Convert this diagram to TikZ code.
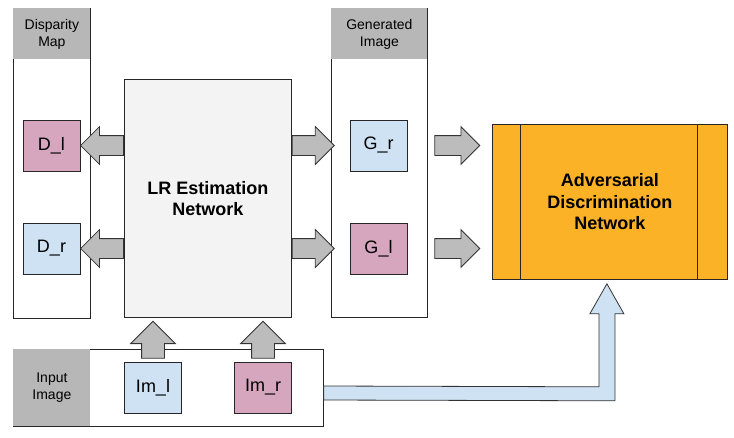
\documentclass[tikz,border=0pt]{standalone}
\usepackage{fontspec}
\setmainfont{Liberation Sans}
\usetikzlibrary{shapes.arrows,positioning,calc}
\definecolor{pinkbox}{HTML}{D5A6BD}
\definecolor{bluebox}{HTML}{CFE2F3}
\definecolor{hdrgray}{HTML}{B7B7B7}
\definecolor{lrgray}{HTML}{F3F3F3}
\definecolor{advorange}{HTML}{FBB226}
\definecolor{arrgray}{HTML}{BCBCBC}

\begin{document}
\begin{tikzpicture}[x=1pt,y=-1pt,line width=0.8pt,
col/.style={draw=black!85,fill=white,anchor=north west,inner sep=0},
hdr/.style={fill=hdrgray,anchor=north west,inner sep=0,minimum height=51pt,align=center,font=\fontsize{14}{17}\selectfont},
sq/.style={draw=black!85,minimum width=57pt,minimum height=51pt,inner sep=0,font=\fontsize{18}{21}\selectfont},
big/.style={align=center,font=\bfseries\fontsize{18}{21.5}\selectfont},
blk/.style={single arrow,draw=black!80,fill=arrgray,anchor=tail,inner xsep=0,inner ysep=9.5pt,single arrow head extend=9pt},
upblk/.style={blk,inner xsep=11pt,inner ysep=0,single arrow head extend=11pt,minimum height=37pt,shape border rotate=90},
bluearr/.style={draw=black!80,fill=bluebox}]
\useasboundingbox (0,0) rectangle (734,437);
% disparity map column
\node[col,minimum width=77pt,minimum height=310pt] (dcol) at (13,8) {};
\node[hdr,minimum width=77pt] (dhdr) at (13,8) {Disparity\\Map};
\node[sq,fill=pinkbox] (dl) at (51.5,145.5) {D\_l};
\node[sq,fill=bluebox] (dr) at (51.5,248.5) {D\_r};
% estimation network
\node[col,fill=lrgray,minimum width=167pt,minimum height=238pt,big] (lr) at (124,79) {LR Estimation\\Network};
% generated image column
\node[col,minimum width=96pt,minimum height=309pt] (gcol) at (331,8) {};
\node[hdr,minimum width=96pt] (ghdr) at (331,8) {Generated\\Image};
\node[sq,fill=bluebox] (gr) at (378.5,145.5) {G\_r};
\node[sq,fill=pinkbox] (gl) at (378.5,248.5) {G\_l};
% discriminator
\node[col,fill=advorange,minimum width=235pt,minimum height=155pt,big] (adv) at (492,124) {Adversarial\\Discrimination\\Network};
\draw[black!85] ([xshift=28pt]adv.north west) -- ([xshift=28pt]adv.south west);
\draw[black!85] ([xshift=-30pt]adv.north east) -- ([xshift=-30pt]adv.south east);
% input images
\node[col,minimum width=310pt,minimum height=77pt] (inp) at (13,349) {};
\node[hdr,minimum width=77pt,minimum height=77pt] (ihdr) at (13,349) {Input\\Image};
\node[sq,fill=bluebox] (iml) at (153,387.5) {Im\_l};
\node[sq,fill=pinkbox] (imr) at (263,387.5) {Im\_r};
% block arrows
\node[blk,minimum height=43pt,shape border rotate=180] (a1) at (lr.west|-dl) {};
\node[blk,minimum height=43pt,shape border rotate=180] (a2) at (lr.west|-dr) {};
\node[blk,minimum height=42pt] (a3) at (lr.east|-gr) {};
\node[blk,minimum height=42pt] (a4) at (lr.east|-gl) {};
\node[blk,minimum height=45pt] (a5) at ([xshift=27pt]gr.east) {};
\node[blk,minimum height=45pt] (a6) at ([xshift=27pt]gl.east) {};
\node[upblk] (a7) at ([yshift=3pt]iml.north) {};
\node[upblk] (a8) at ([yshift=3pt]imr.north) {};
% input to discriminator
\coordinate (tip) at ([xshift=-3pt,yshift=-4pt]adv.south);
\filldraw[bluearr] (inp.east|-0,386) -- ($(tip)+(-8,103)$) -- ($(tip)+(-8,30)$) -- ($(tip)+(-17,30)$) -- (tip)
  -- ($(tip)+(17,30)$) -- ($(tip)+(8,30)$) -- ($(tip)+(8,117)$) -- (inp.east|-0,400) -- cycle;
\end{tikzpicture}
\end{document}
